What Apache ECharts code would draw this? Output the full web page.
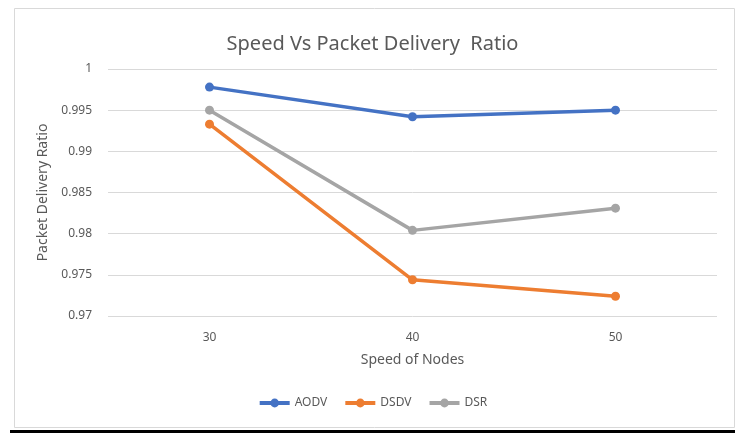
<!DOCTYPE html>
<html>
<head>
<meta charset="utf-8">
<script src="https://cdn.jsdelivr.net/npm/echarts@6/dist/echarts.min.js"></script>
<style>
  html, body { margin: 0; padding: 0; background: #fff; }
  #main { width: 745px; height: 438px; }
</style>
</head>
<body>
<div id="main"></div>
<script>
// speed of nodes
var speeds = ['30', '40', '50'];
var aodv = [0.9978, 0.9942, 0.9950];
var dsdv = [0.9933, 0.9744, 0.9724];
var dsr = [0.9950, 0.9804, 0.9831];
var seriesNames = ['AODV', 'DSDV', 'DSR'];
var colors = ['#4472c4', '#ed7d31', '#a5a5a5'];

var chart = echarts.init(document.getElementById('main'));
var font = 'Noto Sans, sans-serif';

function lineSeries(name, data, color) {
    return {
        name: name,
        type: 'line',
        data: data,
        symbol: 'circle',
        symbolSize: 9,
        lineStyle: {width: 3.5, color: color},
        itemStyle: {color: color},
        animation: false
    };
}

var option = {
    title: {
        text: 'Speed Vs Packet Delivery  Ratio',
        left: 'center',
        top: 29,
        textStyle: {fontFamily: font, fontSize: 20, fontWeight: 'normal', color: '#595959'}
    },
    legend: {
        data: seriesNames,
        bottom: 24,
        left: 'center',
        itemWidth: 30,
        itemHeight: 11,
        itemGap: 16,
        lineStyle: {width: 4},
        textStyle: {fontFamily: font, fontSize: 12, color: '#595959'}
    },
    grid: {left: 108, right: 28, top: 69, bottom: 122},
    xAxis: {
        type: 'category',
        data: speeds,
        name: 'Speed of Nodes',
        nameLocation: 'middle',
        nameGap: 37,
        nameTextStyle: {fontFamily: font, fontSize: 14, color: '#595959'},
        axisLine: {show: false},
        axisTick: {show: false},
        axisLabel: {fontFamily: font, fontSize: 12, color: '#595959', margin: 16}
    },
    yAxis: {
        type: 'value',
        min: 0.97,
        max: 1,
        interval: 0.005,
        name: 'Packet Delivery Ratio',
        nameLocation: 'middle',
        nameGap: 52,
        nameTextStyle: {fontFamily: font, fontSize: 14, color: '#595959'},
        axisLine: {show: false},
        axisTick: {show: false},
        axisLabel: {fontFamily: font, fontSize: 12, color: '#595959', margin: 16},
        splitLine: {lineStyle: {color: '#d9d9d9', width: 1}}
    },
    graphic: [
        {type: 'rect', shape: {x: 14.5, y: 8.5, width: 720, height: 419}, style: {fill: null, stroke: '#d9d9d9', lineWidth: 1}, silent: true},
        {type: 'rect', shape: {x: 10, y: 430, width: 725, height: 3}, style: {fill: '#000'}, silent: true}
    ],
    series: [
        lineSeries(seriesNames[0], aodv, colors[0]),
        lineSeries(seriesNames[1], dsdv, colors[1]),
        lineSeries(seriesNames[2], dsr, colors[2])
    ]
};
chart.setOption(option);
</script>
</body>
</html>
